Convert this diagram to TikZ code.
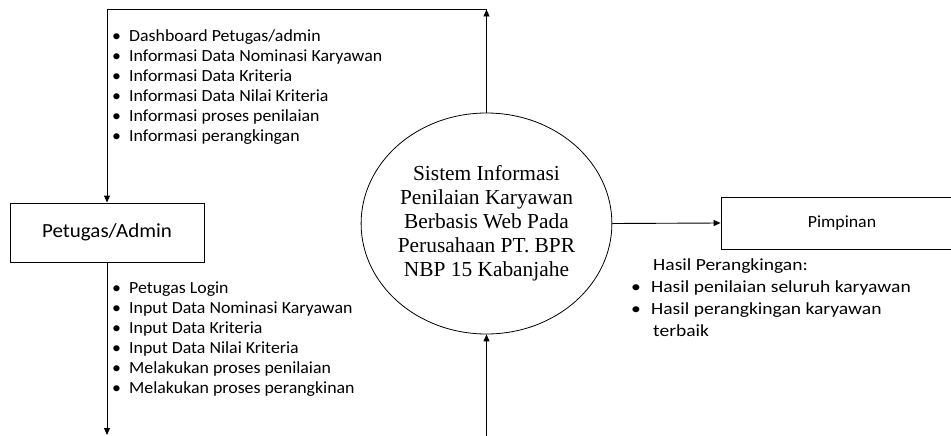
\documentclass[tikz,border=0pt]{standalone}
\usepackage{fontspec}
\setmainfont{Carlito}
\newfontfamily\listfont[FakeStretch=1.05]{Carlito}
\newfontfamily\hasilfont[FakeStretch=1.15]{Carlito}
\newfontfamily\sysfont{Liberation Serif}
\usetikzlibrary{arrows.meta,shapes.geometric}
\newcommand{\bul}[1]{\makebox[#1][l]{\textbullet}}
\begin{document}
\begin{tikzpicture}[x=1pt,y=-1pt,
  line/.style={line width=0.9pt,draw=black},
  arr/.style={line,-{Triangle[length=7pt,width=6pt]}},
  entity/.style={draw=black,line width=0.9pt,rectangle,inner sep=0pt,fill=white},
  listtext/.style={inner sep=0pt,anchor=base west,font=\listfont\fontsize{17}{20}\selectfont},
]
\useasboundingbox (0,0) rectangle (951,436);
\fill[white] (0,0) rectangle (951,436);

% process
\node[ellipse,draw=black,line width=0.8pt,minimum width=241pt,minimum height=221pt,inner sep=0pt,
  align=center,font=\sysfont\fontsize{21.4}{24}\selectfont] (sys) at (486.5,223.5)
  {Sistem Informasi\\Penilaian Karyawan\\Berbasis Web Pada\\Perusahaan PT. BPR\\NBP 15 Kabanjahe};

% entities
\node[entity,minimum width=194pt,minimum height=59pt,font=\listfont\fontsize{20}{24}\selectfont]
  (petugas) at (107,232.5) {Petugas/Admin};
\node[entity,minimum width=242pt,minimum height=52pt,font=\listfont\fontsize{17}{20}\selectfont]
  (pimpinan) at (842,223) {Pimpinan};

% free ends
\coordinate (tr) at (486.5,9.5);
\coordinate (bl) at (107,435);
\coordinate (br) at (486.5,436);

% connectors
\draw[arr] (sys.north) -- (tr);
\draw[arr] (tr) -| (petugas.north);
\draw[arr] (petugas.south) -- (bl);
\draw[arr] (br) -- (sys.south);
\draw[arr] (sys.east) -- (pimpinan.west);

% labels
\node[listtext] (outlist) at (112,41.7) {\begin{tabular}[t]{@{}l@{}}
\bul{17pt}Dashboard Petugas/admin\\
\bul{17pt}Informasi Data Nominasi Karyawan\\
\bul{17pt}Informasi Data Kriteria\\
\bul{17pt}Informasi Data Nilai Kriteria\\
\bul{17pt}Informasi proses penilaian\\
\bul{17pt}Informasi perangkingan
\end{tabular}};

\node[listtext] (inlist) at (112,293.3) {\begin{tabular}[t]{@{}l@{}}
\bul{17pt}Petugas Login\\
\bul{17pt}Input Data Nominasi Karyawan\\
\bul{17pt}Input Data Kriteria\\
\bul{17pt}Input Data Nilai Kriteria\\
\bul{17pt}Melakukan proses penilaian\\
\bul{17pt}Melakukan proses perangkinan
\end{tabular}};

\node[inner sep=0pt,anchor=base west,font=\hasilfont\fontsize{17}{21.8}\selectfont] (hasil) at (631,270.7)
{\begin{tabular}[t]{@{}l@{}}
\hspace{22pt}Hasil Perangkingan:\\
\bul{20pt}Hasil penilaian seluruh karyawan\\
\bul{20pt}Hasil perangkingan karyawan\\
\hspace{22pt}terbaik
\end{tabular}};
\end{tikzpicture}
\end{document}
